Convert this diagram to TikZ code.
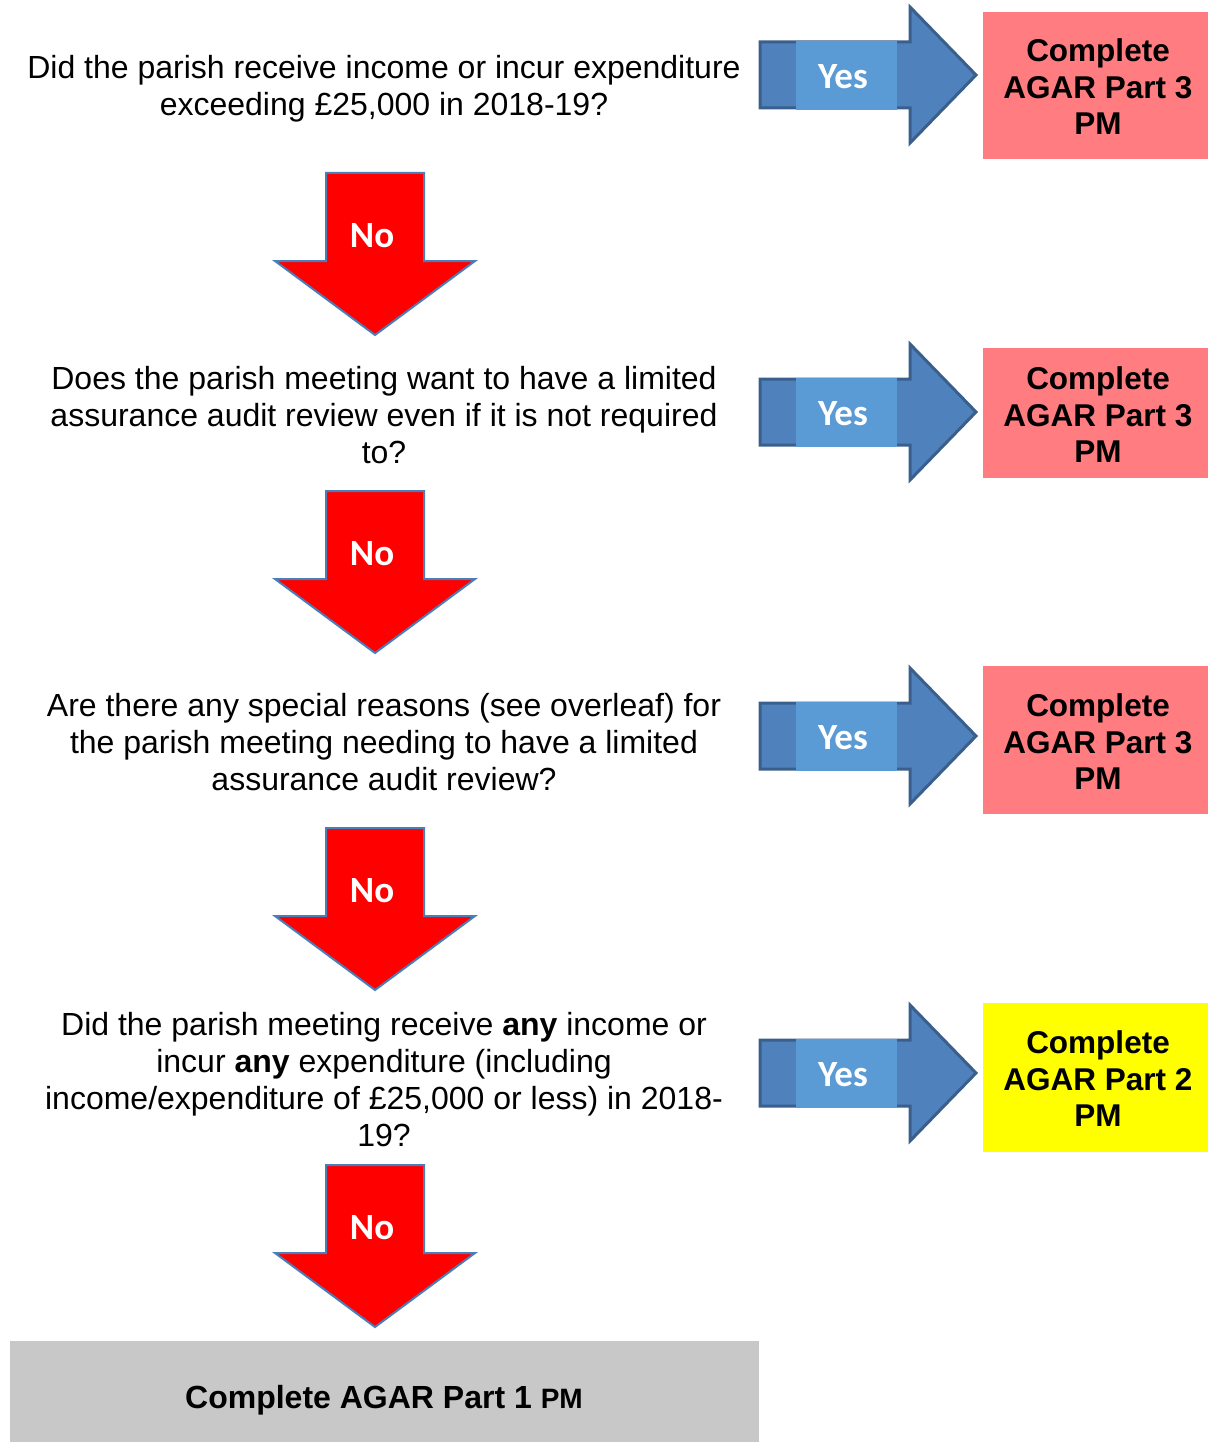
\documentclass[tikz,border=0pt]{standalone}
\usepackage{fontspec}
\setmainfont{Liberation Sans}
\newfontfamily\calfont{Carlito}
\definecolor{arrowblue}{HTML}{4F81BD}
\definecolor{arrowedge}{HTML}{3A5F8C}
\definecolor{yesbox}{HTML}{5B9BD5}
\definecolor{boxred}{HTML}{FF7C80}
\definecolor{boxyellow}{HTML}{FFFF00}
\definecolor{boxgray}{HTML}{C8C8C8}
\definecolor{noedge}{HTML}{4A7EBB}
\tikzset{
  question/.style={align=center, font=\fontsize{32}{37}\selectfont, inner sep=0pt},
  result/.style={align=center, font=\bfseries\fontsize{31.5}{36.5}\selectfont, inner sep=0pt},
  yesarrowshape/.style={fill=arrowblue, draw=arrowedge, line width=3pt, line join=miter},
  noarrowshape/.style={fill=red, draw=noedge, line width=2pt, line join=miter},
  arrowlabel/.style={text=white, font=\calfont\bfseries\fontsize{37}{42}\selectfont, inner sep=0pt}
}
\begin{document}
\begin{tikzpicture}[x=1pt,y=-1pt]
\useasboundingbox (0,0) rectangle (1208,1442);
% Yes arrows
\foreach \c/\n in {75/1,412/2,736/3,1073/4}{
  \draw[yesarrowshape] (760,\c-33) -- (910,\c-33) -- (910,\c-68) -- (976,\c) -- (910,\c+68) -- (910,\c+33) -- (760,\c+33) -- cycle;
  \fill[yesbox] (796,\c-34) rectangle (897,\c+35);
  \node[arrowlabel] (yes\n) at (843,\c+2) {Yes};
}
% No arrows
\foreach \t/\n in {173/1,491/2,828/3,1165/4}{
  \draw[noarrowshape] (326,\t) -- (424,\t) -- (424,\t+88) -- (475,\t+88) -- (375,\t+162) -- (275,\t+88) -- (326,\t+88) -- cycle;
  \node[arrowlabel] (no\n) at (372,\t+63) {No};
}
% Result boxes
\fill[boxred] (983,12) rectangle (1208,159);
\node[result] (r1) at (1098,87) {Complete\\AGAR Part 3\\PM};
\fill[boxred] (983,348) rectangle (1208,478);
\node[result] (r2) at (1098,415) {Complete\\AGAR Part 3\\PM};
\fill[boxred] (983,666) rectangle (1208,814);
\node[result] (r3) at (1098,742) {Complete\\AGAR Part 3\\PM};
\fill[boxyellow] (983,1003) rectangle (1208,1152);
\node[result] (r4) at (1098,1079) {Complete\\AGAR Part 2\\PM};
% Questions
\node[question] (q1) at (384,89) {Did the parish receive income or incur expenditure\\exceeding £25,000 in 2018-19?};
\node[question] (q2) at (384,415) {Does the parish meeting want to have a limited\\assurance audit review even if it is not required\\to?};
\node[question] (q3) at (384,742) {Are there any special reasons (see overleaf) for\\the parish meeting needing to have a limited\\assurance audit review?};
\node[question] (q4) at (384,1080) {Did the parish meeting receive \textbf{any} income or\\incur \textbf{any} expenditure (including\\income/expenditure of £25,000 or less) in 2018-\\19?};
% Final box
\fill[boxgray] (10,1341) rectangle (759,1442);
\node[inner sep=0pt, font=\bfseries\fontsize{32}{38}\selectfont] (final) at (384,1400) {Complete AGAR Part 1 {\fontsize{28}{32}\selectfont PM}};
\end{tikzpicture}
\end{document}
